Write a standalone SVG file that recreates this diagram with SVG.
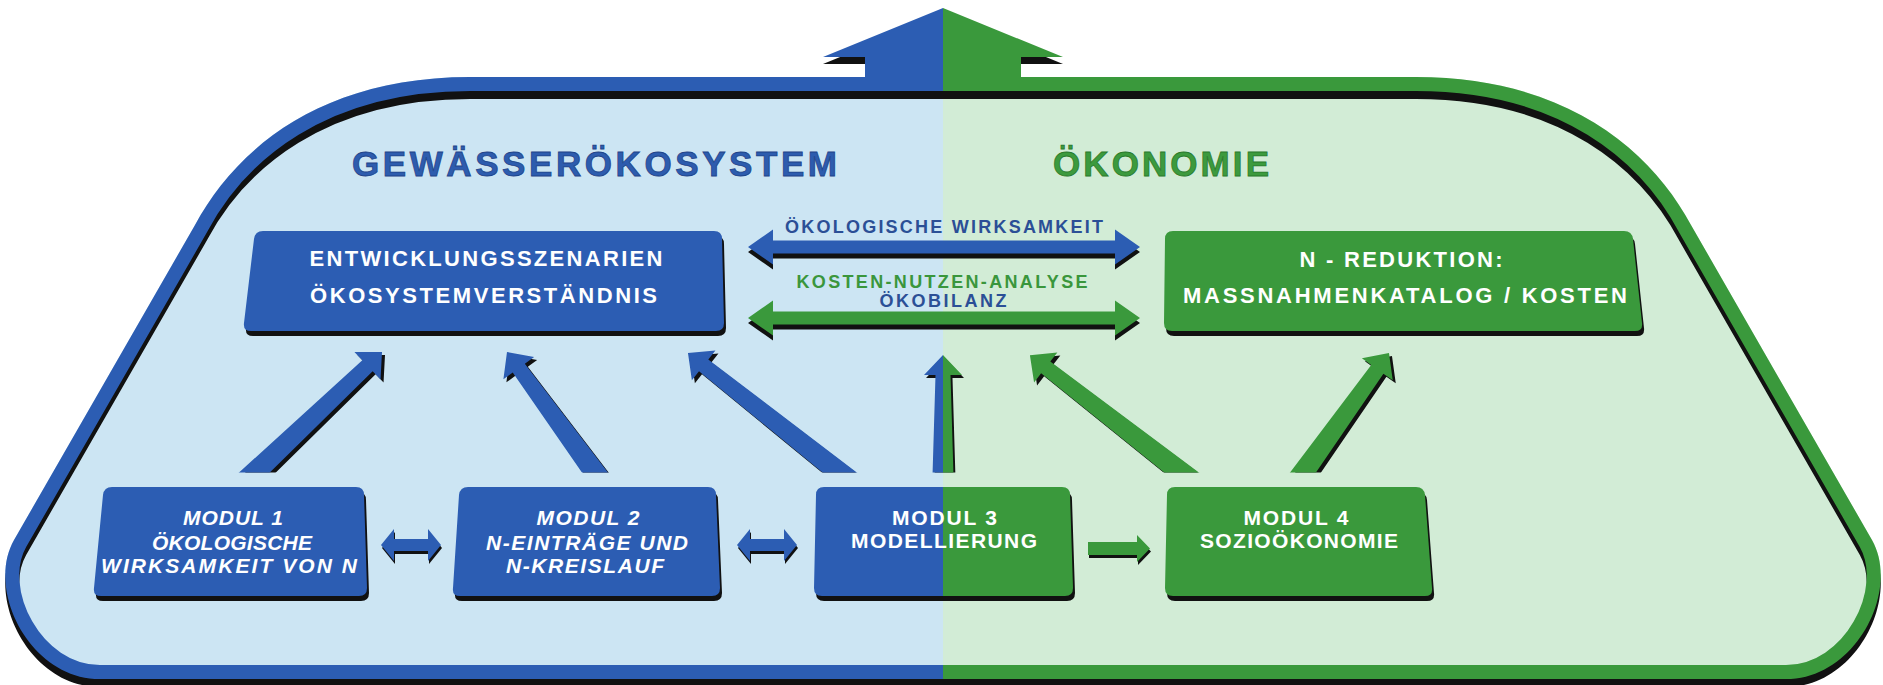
<svg xmlns="http://www.w3.org/2000/svg" width="1883" height="685" viewBox="0 0 1883 685">
<style>
.t{font-family:"Liberation Sans",Arial,Helvetica,sans-serif;font-weight:bold;}
.w{fill:#ffffff;}
.it{font-style:italic;}
.blue{fill:#2c5db3;}
.green{fill:#3a993c;}
.sh{fill:#111111;}
.lblB{fill:#2b4f96;}
.lblG{fill:#3a963c;}
</style>
<defs>
<linearGradient id="splitBg" gradientUnits="userSpaceOnUse" x1="0" y1="0" x2="1883" y2="0">
<stop offset="0.5008" stop-color="#cce5f3"/><stop offset="0.5008" stop-color="#d2ecd6"/>
</linearGradient>
<linearGradient id="split" gradientUnits="userSpaceOnUse" x1="0" y1="0" x2="1883" y2="0">
<stop offset="0.5008" stop-color="#2c5db3"/><stop offset="0.5008" stop-color="#3a993c"/>
</linearGradient>
<clipPath id="frameClip">
<path d="M943,77 L470,77 C320,77 235,150 195,225 L14,540 C-14.5,590 30,679 100,679 L1786,679 C1856,679 1900.5,590 1872,540 L1691,225 C1651,150 1566,77 1416,77 Z"/>
</clipPath>
<clipPath id="aboveBoxes"><rect x="0" y="0" width="1883" height="472.5"/></clipPath>
<path id="frameP" d="M943,77 L470,77 C320,77 235,150 195,225 L14,540 C-14.5,590 30,679 100,679 L1786,679 C1856,679 1900.5,590 1872,540 L1691,225 C1651,150 1566,77 1416,77 Z"/>
<path id="dblBig" d="M748,0 L773,-17.5 L773,-6.5 L1115,-6.5 L1115,-17.5 L1140,0 L1115,17.5 L1115,6.5 L773,6.5 L773,17.5 Z"/>
<path id="dblSmall" d="M0,0 L13,-16 L13,-6 L47,-6 L47,-16 L60,0 L47,16 L47,6 L13,6 L13,16 Z"/>
<path id="shB1" d="M263,231 H714 Q722,231 722,239 L724,323 Q724,331 716,331 H251 Q243,331 244,323 L254,239 Q255,231 263,231 Z"/>
<path id="shB2" d="M1173,231 H1624 Q1632,231 1633,239 L1642,323 Q1643,331 1635,331 H1172 Q1164,331 1164,323 L1165,239 Q1165,231 1173,231 Z"/>
<path id="shM1" d="M112,487 H356 Q364,487 364,495 L367,588 Q367,596 359,596 H101 Q93,596 94,588 L103,495 Q104,487 112,487 Z"/>
<path id="shM2" d="M468,487 H708 Q716,487 716,495 L720,588 Q720,596 712,596 H460 Q452,596 453,588 L459,495 Q460,487 468,487 Z"/>
<path id="shM3" d="M824,487 H1062 Q1070,487 1070,495 L1073,588 Q1073,596 1065,596 H822 Q814,596 814,588 L816,495 Q816,487 824,487 Z"/>
<path id="shM4" d="M1175,487 H1416 Q1424,487 1425,495 L1432,588 Q1433,596 1425,596 H1173 Q1165,596 1165,588 L1167,495 Q1167,487 1175,487 Z"/>
</defs>

<rect x="0" y="0" width="1883" height="685" fill="#ffffff"/>

<g id="frame">
<use href="#frameP" fill="url(#splitBg)"/>
<g transform="translate(0,8)" clip-path="url(#frameClip)">
<use href="#frameP" fill="none" stroke="#111111" stroke-width="28"/>
</g>
<g clip-path="url(#frameClip)">
<use href="#frameP" fill="none" stroke="url(#split)" stroke-width="28"/>
</g>
<polygon class="sh" points="823,57 943,8 1063,57" transform="translate(0,7)"/>
<polygon points="943,8 1063,57 1021,57 1021,79 865,79 865,57 823,57" fill="url(#split)"/>
</g>

<g id="headings" class="t" font-size="35">
<text x="594.5" y="176" text-anchor="middle" textLength="485" lengthAdjust="spacing" fill="#2d5cae" stroke="#1f4489" stroke-width="0.8">GEWÄSSERÖKOSYSTEM</text>
<text x="1161" y="176" text-anchor="middle" textLength="216" lengthAdjust="spacing" fill="#3c9a3e" stroke="#2a7a2c" stroke-width="0.8">ÖKONOMIE</text>
</g>

<g id="connectors">
<g id="link-wirksamkeit">
<use href="#dblBig" class="sh" transform="translate(0,252)"/>
<use href="#dblBig" class="blue" transform="translate(0,247)"/>
<text class="t lblB" x="944" y="233" font-size="18" text-anchor="middle" textLength="318" lengthAdjust="spacing">ÖKOLOGISCHE WIRKSAMKEIT</text>
</g>
<g id="link-kosten">
<use href="#dblBig" class="sh" transform="translate(0,323)"/>
<use href="#dblBig" class="green" transform="translate(0,318)"/>
<text class="t lblG" x="942" y="288" font-size="18" text-anchor="middle" textLength="291" lengthAdjust="spacing">KOSTEN-NUTZEN-ANALYSE</text>
<text class="t lblB" x="943" y="307" font-size="18" text-anchor="middle" textLength="127" lengthAdjust="spacing">ÖKOBILANZ</text>
</g>
<g id="up-arrows" clip-path="url(#aboveBoxes)">
<polygon class="sh" transform="translate(253,480) rotate(46.56)" points="-11,15 -7.5,-161.8 -19,-161.8 0,-181.8 19,-161.8 7.5,-161.8 11,15"/>
<polygon class="blue" transform="translate(250,477) rotate(46.56)" points="-11,15 -7.5,-161.8 -19,-161.8 0,-181.8 19,-161.8 7.5,-161.8 11,15"/>
<polygon class="sh" transform="translate(601,480) rotate(-36.06)" points="-11,15 -7.5,-134.6 -19,-134.6 0,-154.6 19,-134.6 7.5,-134.6 11,15"/>
<polygon class="blue" transform="translate(598,477) rotate(-36.06)" points="-11,15 -7.5,-134.6 -19,-134.6 0,-154.6 19,-134.6 7.5,-134.6 11,15"/>
<polygon class="sh" transform="translate(848,480) rotate(-51.7)" points="-11,15 -7.5,-180.1 -19,-180.1 0,-200.1 19,-180.1 7.5,-180.1 11,15"/>
<polygon class="blue" transform="translate(845,477) rotate(-51.7)" points="-11,15 -7.5,-180.1 -19,-180.1 0,-200.1 19,-180.1 7.5,-180.1 11,15"/>
<polygon class="sh" transform="translate(2,3)" points="932,492 935.5,375 924,375 943,355 962,375 950.5,375 954,492"/>
<polygon fill="url(#split)" points="932,492 935.5,375 924,375 943,355 962,375 950.5,375 954,492"/>
<polygon class="sh" transform="translate(1190,480) rotate(-52.2)" points="-11,15 -7.5,-178.8 -19,-178.8 0,-198.8 19,-178.8 7.5,-178.8 11,15"/>
<polygon class="green" transform="translate(1187,477) rotate(-52.2)" points="-11,15 -7.5,-178.8 -19,-178.8 0,-198.8 19,-178.8 7.5,-178.8 11,15"/>
<polygon class="sh" transform="translate(1303,480) rotate(35.67)" points="-11,15 -7.5,-132.6 -19,-132.6 0,-152.6 19,-132.6 7.5,-132.6 11,15"/>
<polygon class="green" transform="translate(1300,477) rotate(35.67)" points="-11,15 -7.5,-132.6 -19,-132.6 0,-152.6 19,-132.6 7.5,-132.6 11,15"/>
</g>
<g id="module-links">
<use href="#dblSmall" class="sh" transform="translate(382,548)"/>
<use href="#dblSmall" class="blue" transform="translate(381,545)"/>
<use href="#dblSmall" class="sh" transform="translate(738,548)"/>
<use href="#dblSmall" class="blue" transform="translate(737,545)"/>
<path class="sh" transform="translate(1,3)" d="M1088,542 L1137,542 L1137,535 L1150,548.5 L1137,562 L1137,555 L1088,555 Z"/>
<path class="green" d="M1088,542 L1137,542 L1137,535 L1150,548.5 L1137,562 L1137,555 L1088,555 Z"/>
</g>
</g>

<g id="node-entwicklung">
<use href="#shB1" class="sh" transform="translate(2,5)"/>
<use href="#shB1" class="blue"/>
<text class="t w" x="486" y="266" font-size="22" text-anchor="middle" textLength="353" lengthAdjust="spacing">ENTWICKLUNGSSZENARIEN</text>
<text class="t w" x="483.5" y="303" font-size="22" text-anchor="middle" textLength="347" lengthAdjust="spacing">ÖKOSYSTEMVERSTÄNDNIS</text>
</g>

<g id="node-reduktion">
<use href="#shB2" class="sh" transform="translate(2,5)"/>
<use href="#shB2" class="green"/>
<text class="t w" x="1401" y="267" font-size="22" text-anchor="middle" textLength="203" lengthAdjust="spacing">N - REDUKTION:</text>
<text class="t w" x="1405" y="303" font-size="22" text-anchor="middle" textLength="444" lengthAdjust="spacing">MASSNAHMENKATALOG / KOSTEN</text>
</g>

<g id="node-modul1">
<use href="#shM1" class="sh" transform="translate(2,5)"/>
<use href="#shM1" class="blue"/>
<text class="t w it" x="233" y="525" font-size="21" text-anchor="middle" textLength="100" lengthAdjust="spacing">MODUL 1</text>
<text class="t w it" x="232" y="550" font-size="21" text-anchor="middle" textLength="160" lengthAdjust="spacing">ÖKOLOGISCHE</text>
<text class="t w it" x="229" y="573" font-size="21" text-anchor="middle" textLength="256" lengthAdjust="spacing">WIRKSAMKEIT VON N</text>
</g>

<g id="node-modul2">
<use href="#shM2" class="sh" transform="translate(2,5)"/>
<use href="#shM2" class="blue"/>
<text class="t w it" x="588" y="525" font-size="21" text-anchor="middle" textLength="103" lengthAdjust="spacing">MODUL 2</text>
<text class="t w it" x="587" y="550" font-size="21" text-anchor="middle" textLength="202" lengthAdjust="spacing">N-EINTRÄGE UND</text>
<text class="t w it" x="585" y="573" font-size="21" text-anchor="middle" textLength="158" lengthAdjust="spacing">N-KREISLAUF</text>
</g>

<g id="node-modul3">
<use href="#shM3" class="sh" transform="translate(2,5)"/>
<use href="#shM3" fill="url(#split)"/>
<text class="t w" x="944.5" y="525" font-size="21" text-anchor="middle" textLength="105" lengthAdjust="spacing">MODUL 3</text>
<text class="t w" x="944" y="548" font-size="21" text-anchor="middle" textLength="186" lengthAdjust="spacing">MODELLIERUNG</text>
</g>

<g id="node-modul4">
<use href="#shM4" class="sh" transform="translate(2,5)"/>
<use href="#shM4" class="green"/>
<text class="t w" x="1296" y="525" font-size="21" text-anchor="middle" textLength="105" lengthAdjust="spacing">MODUL 4</text>
<text class="t w" x="1299" y="548" font-size="21" text-anchor="middle" textLength="198" lengthAdjust="spacing">SOZIOÖKONOMIE</text>
</g>
</svg>
